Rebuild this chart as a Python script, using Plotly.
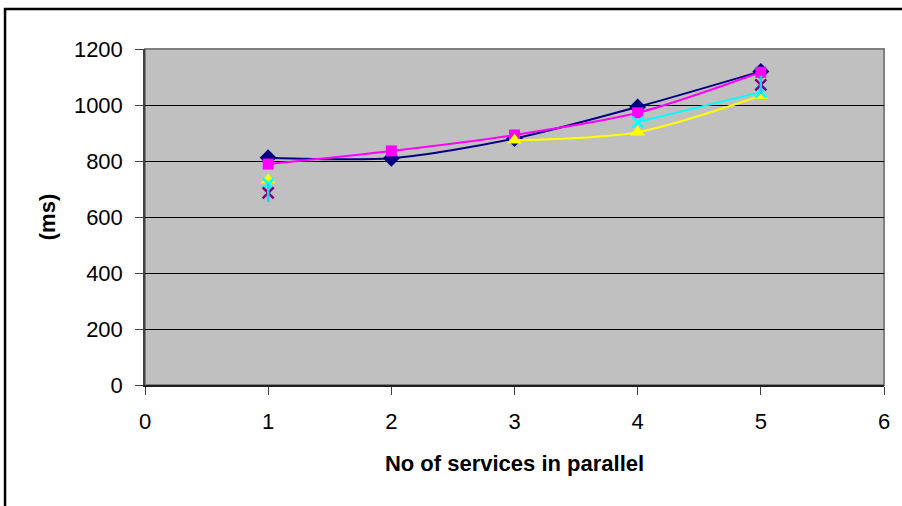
import plotly.graph_objects as go

x_vals = [1, 2, 3, 4, 5]
navy_vals = [812, 810, 880, 993, 1120]
magenta_vals = [789, 836, 893, 972, 1117]
yellow_vals = [732, None, 874, 903, 1033]
cyan_vals = [718, None, None, 939, 1046]
purple_vals = [686, None, None, None, 1072]

x_ticks = [0, 1, 2, 3, 4, 5, 6]
y_ticks = [0, 200, 400, 600, 800, 1000, 1200]

FONT = "Liberation Sans, Arial, sans-serif"

fig = go.Figure()

fig.add_trace(go.Scatter(x=x_vals, y=navy_vals, mode="lines+markers",
                         line=dict(color="#000080", width=2, shape="spline", smoothing=0.8),
                         marker=dict(symbol="diamond", size=13, color="#000080")))
fig.add_trace(go.Scatter(x=x_vals, y=magenta_vals, mode="lines+markers",
                         line=dict(color="#FF00FF", width=2, shape="spline", smoothing=0.8),
                         marker=dict(symbol="square", size=11, color="#FF00FF")))
fig.add_trace(go.Scatter(x=x_vals, y=yellow_vals, mode="lines+markers",
                         line=dict(color="#FFFF00", width=2, shape="spline", smoothing=0.8),
                         marker=dict(symbol="triangle-up", size=13, color="#FFFF00")))
fig.add_trace(go.Scatter(x=x_vals, y=cyan_vals, mode="lines+markers",
                         line=dict(color="#00FFFF", width=2, shape="spline", smoothing=0.8),
                         marker=dict(symbol="x-thin-open", size=11,
                                     line=dict(color="#00FFFF", width=2.5))))
fig.add_trace(go.Scatter(x=x_vals, y=purple_vals, mode="lines+markers",
                         line=dict(color="#800080", width=2, shape="spline", smoothing=0.8),
                         marker=dict(symbol="x-thin-open", size=11,
                                     line=dict(color="#800080", width=2.5))))
fig.add_trace(go.Scatter(x=x_vals, y=purple_vals, mode="markers",
                         marker=dict(symbol="line-ns-open", size=13,
                                     line=dict(color="#800080", width=2.5))))

fig.update_layout(
    width=902, height=506,
    margin=dict(l=145, r=18, t=49, b=121),
    paper_bgcolor="white",
    plot_bgcolor="#C0C0C0",
    showlegend=False,
    font=dict(family=FONT, size=22, color="black"),
    xaxis=dict(range=[0, 6], tickvals=x_ticks, showgrid=False, zeroline=False,
               showline=True, linecolor="#202020", linewidth=1.5,
               ticks="outside", ticklen=8, tickcolor="#404040",
               tickfont=dict(size=22), ticklabelstandoff=8,
               title=dict(text="<b>No of services in parallel</b>", font=dict(size=22), standoff=22)),
    yaxis=dict(range=[0, 1200], tickvals=y_ticks, showgrid=True, gridcolor="black", gridwidth=1,
               zeroline=False, showline=True, linecolor="#404040", linewidth=1.5,
               ticks="outside", ticklen=8, tickcolor="#404040",
               tickfont=dict(size=22), ticklabelstandoff=8,
               title=dict(text="<b>(ms)</b>", font=dict(size=22), standoff=12)),
    shapes=[
        dict(type="rect", xref="paper", yref="paper", x0=0, x1=1, y0=0, y1=1,
             line=dict(color="#808080", width=2), layer="below"),
        dict(type="rect", xref="paper", yref="paper", x0=-0.1894, x1=1.05, y0=-0.4, y1=1.119,
             line=dict(color="black", width=2.5), layer="above"),
    ],
)

fig.write_html("out.html", config={"displayModeBar": False},
               post_script="document.body.style.margin='0';")
